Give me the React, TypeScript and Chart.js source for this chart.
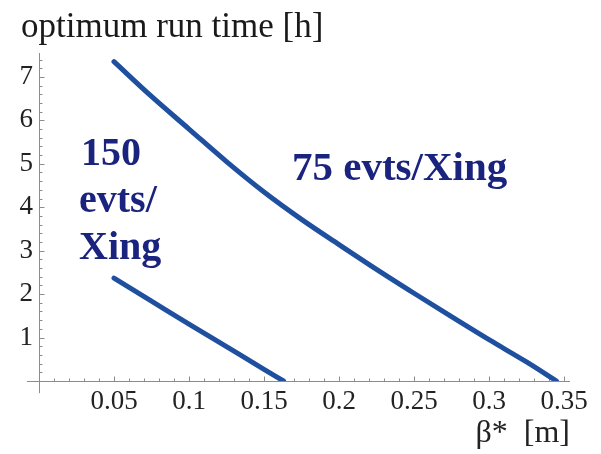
import React, { useEffect, useRef } from "react";
import { Chart, registerables } from "chart.js";

Chart.register(...registerables);

// beta* [m] and optimum run time [h]
const beta75 = [0.05, 0.075, 0.1, 0.125, 0.15, 0.175, 0.2, 0.225, 0.25, 0.275, 0.3, 0.325, 0.345];
const runTime75 = [7.35, 6.55, 5.8, 5.05, 4.35, 3.72, 3.14, 2.57, 2.02, 1.48, 0.95, 0.44, 0];
const beta150 = [0.05, 0.075, 0.1, 0.125, 0.15, 0.163];
const runTime150 = [2.37, 1.84, 1.31, 0.79, 0.27, 0];

const yAxisTitle = "optimum run time [h]";
const xAxisTitle = "β*  [m]";
const label150 = ["150", "evts/", "Xing"];
const label75 = "75 evts/Xing";

const X_MIN = 0;
const X_MAX = 0.354;
const Y_MIN = 0;
const Y_MAX = 7.55;

const SERIF = '"Liberation Serif", "Times New Roman", serif';
const CURVE = "#1f4f9f";
const NAVY = "#1a237e";
const AXIS = "#8c8c8c";

const fmt = (v: number) => {
  if (Math.abs(v) < 1e-9) return "";
  return String(parseFloat(v.toFixed(2)));
};

const axesPlugin = {
  id: "mathAxes",
  beforeDatasetsDraw(chart: any) {
    const { ctx } = chart;
    const x = chart.scales.x;
    const y = chart.scales.y;
    const x0 = Math.round(x.getPixelForValue(0)) + 0.5;
    const y0 = Math.round(y.getPixelForValue(0)) + 0.5;
    ctx.save();
    ctx.strokeStyle = AXIS;
    ctx.lineWidth = 1;
    ctx.beginPath();
    ctx.moveTo(x.getPixelForValue(-0.008), y0);
    ctx.lineTo(x.right, y0);
    ctx.moveTo(x0, y.top);
    ctx.lineTo(x0, y.getPixelForValue(-0.28));
    for (let i = 1; i <= 35; i++) {
      const px = Math.round(x.getPixelForValue(i / 100)) + 0.5;
      const len = i % 5 === 0 ? 5 : 3;
      ctx.moveTo(px, y0);
      ctx.lineTo(px, y0 - len);
    }
    for (let j = 1; j <= 37; j++) {
      const py = Math.round(y.getPixelForValue(j / 5)) + 0.5;
      const len = j % 5 === 0 ? 5 : 3;
      ctx.moveTo(x0, py);
      ctx.lineTo(x0 + len, py);
    }
    ctx.stroke();
    ctx.restore();
  },
  afterDatasetsDraw(chart: any) {
    const { ctx } = chart;
    ctx.save();
    ctx.fillStyle = "#1a1a1a";
    ctx.font = `35px ${SERIF}`;
    ctx.textBaseline = "alphabetic";
    ctx.textAlign = "left";
    ctx.fillText(yAxisTitle, 21, 37);

    ctx.fillStyle = NAVY;
    ctx.font = `bold 40px ${SERIF}`;
    ctx.fillText(label150[0], 81, 165);
    ctx.fillText(label150[1], 79, 212);
    ctx.fillText(label150[2], 79, 259);
    ctx.font = `bold 41px ${SERIF}`;
    ctx.fillText(label75, 292, 180);
    ctx.restore();
  },
};

export default function App() {
  const ref = useRef<HTMLCanvasElement | null>(null);

  useEffect(() => {
    if (!ref.current) return;
    const chart = new Chart(ref.current, {
      type: "line",
      data: {
        datasets: [
          {
            data: beta75.map((b, i) => ({ x: b, y: runTime75[i] })),
            borderColor: CURVE,
            borderWidth: 5,
            pointRadius: 0,
            cubicInterpolationMode: "monotone",
            borderCapStyle: "round",
          },
          {
            data: beta150.map((b, i) => ({ x: b, y: runTime150[i] })),
            borderColor: CURVE,
            borderWidth: 5,
            pointRadius: 0,
            cubicInterpolationMode: "monotone",
            borderCapStyle: "round",
          },
        ],
      },
      options: {
        responsive: false,
        animation: false,
        layout: { padding: { left: 0, top: 53, right: 31, bottom: 0 } },
        plugins: { legend: { display: false }, tooltip: { enabled: false } },
        scales: {
          x: {
            type: "linear",
            min: X_MIN,
            max: X_MAX,
            grid: { display: false, drawTicks: false },
            border: { display: false },
            ticks: {
              stepSize: 0.05,
              includeBounds: false,
              autoSkip: false,
              maxRotation: 0,
              padding: 5,
              color: "#222",
              font: { family: SERIF, size: 27 },
              callback: (v: any) => fmt(Number(v)),
            },
            title: {
              display: true,
              text: xAxisTitle,
              align: "end",
              color: "#222",
              font: { family: SERIF, size: 32 },
              padding: { top: 0, bottom: 1 },
            },
            afterFit: (s: any) => {
              s.height = 73;
            },
          },
          y: {
            type: "linear",
            min: Y_MIN,
            max: Y_MAX,
            grid: { display: false, drawTicks: false },
            border: { display: false },
            ticks: {
              stepSize: 1,
              includeBounds: false,
              padding: 6,
              color: "#222",
              font: { family: SERIF, size: 27 },
              callback: (v: any) => fmt(Number(v)),
            },
            afterFit: (s: any) => {
              s.width = 39;
            },
          },
        },
      },
      plugins: [axesPlugin],
    });
    return () => chart.destroy();
  }, []);

  return (
    <div style={{ position: "absolute", left: 0, top: 0, width: 601, height: 454, background: "#fff" }}>
      <canvas ref={ref} width={601} height={454} />
    </div>
  );
}
